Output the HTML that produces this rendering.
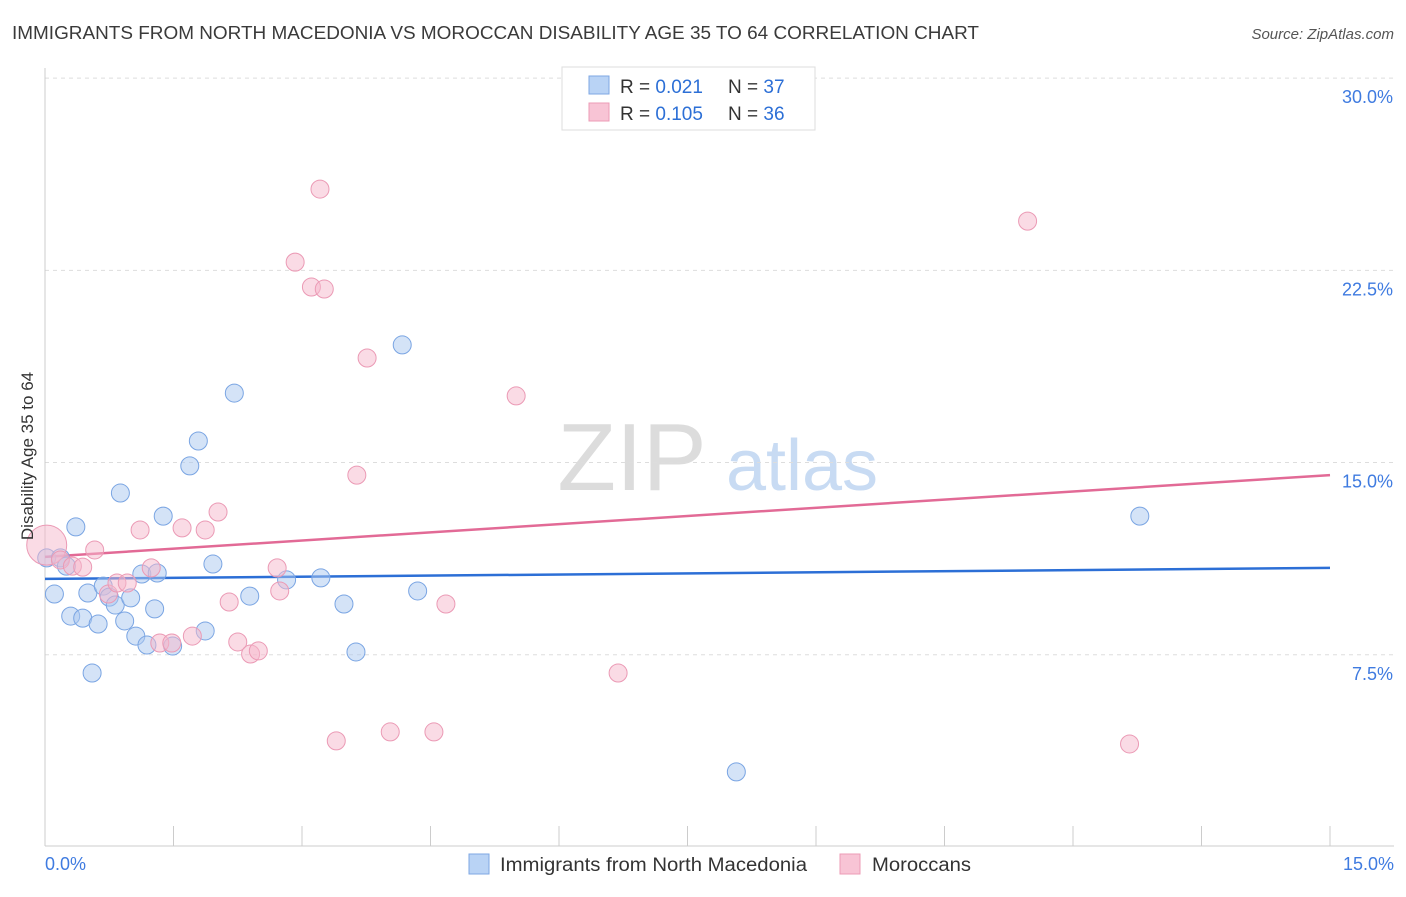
<!DOCTYPE html>
<html><head><meta charset="utf-8">
<style>
body{margin:0;background:#fff;font-family:"Liberation Sans",sans-serif;}
svg text{font-family:"Liberation Sans",sans-serif;}
</style></head>
<body>
<svg id="chart" width="1406" height="892" viewBox="0 0 1406 892" xmlns="http://www.w3.org/2000/svg">
<text x="12" y="39" font-size="18" fill="#3a3a3a" textLength="967" lengthAdjust="spacingAndGlyphs">IMMIGRANTS FROM NORTH MACEDONIA VS MOROCCAN DISABILITY AGE 35 TO 64 CORRELATION CHART</text>
<text x="1394" y="39" font-size="15" fill="#555" text-anchor="end" font-style="italic">Source: ZipAtlas.com</text>
<g>
<text x="632" y="490" font-size="96" fill="#dcdcdc" font-family="Liberation Serif,serif" text-anchor="middle">ZIP</text>
<text x="802" y="490" font-size="72" fill="#c8dbf3" text-anchor="middle">atlas</text>
</g>
<g id="grid"></g>
<g id="axes"></g>
<g id="trends"></g>
<g id="points"></g>
<text transform="translate(33,456) rotate(-90)" font-size="17" fill="#333" text-anchor="middle">Disability Age 35 to 64</text>
<g>
<rect x="562" y="67" width="253" height="63" fill="#fff" stroke="#ddd"/>
<rect x="589" y="76" width="20" height="18" fill="#b9d3f5" stroke="#7ea7e3"/>
<rect x="589" y="103" width="20" height="18" fill="#f8c4d5" stroke="#ec9bb6"/>
<text x="620" y="93" font-size="19" fill="#333">R = <tspan fill="#2c6fd6">0.021</tspan></text>
<text x="728" y="93" font-size="19" fill="#333">N = <tspan fill="#2c6fd6">37</tspan></text>
<text x="620" y="120" font-size="19" fill="#333">R = <tspan fill="#2c6fd6">0.105</tspan></text>
<text x="728" y="120" font-size="19" fill="#333">N = <tspan fill="#2c6fd6">36</tspan></text>
</g>
<g>
<rect x="469" y="854" width="20" height="20" fill="#b9d3f5" stroke="#7ea7e3"/>
<text x="500" y="871" font-size="19" fill="#333" textLength="307" lengthAdjust="spacingAndGlyphs">Immigrants from North Macedonia</text>
<rect x="840" y="854" width="20" height="20" fill="#f8c4d5" stroke="#ec9bb6"/>
<text x="872" y="871" font-size="19" fill="#333" textLength="99" lengthAdjust="spacingAndGlyphs">Moroccans</text>
</g>
</svg>
<script>
const blueX=[0.02,0.11,0.18,0.25,0.30,0.36,0.44,0.50,0.55,0.62,0.68,0.75,0.82,0.88,0.93,1.00,1.06,1.13,1.19,1.28,1.31,1.38,1.49,1.69,1.79,1.87,1.96,2.21,2.39,2.82,3.22,3.49,3.63,4.17,4.35,8.07,12.78];
const blueY=[11.28,9.87,11.28,10.96,9.01,12.49,8.93,9.91,6.79,8.70,10.18,9.75,9.44,13.81,8.82,9.72,8.23,10.65,7.88,9.29,10.69,12.91,7.84,14.87,15.84,8.43,11.04,17.71,9.79,10.42,10.50,9.48,7.61,19.59,9.99,2.93,12.91];
const pinkX=[0.02,0.18,0.32,0.44,0.58,0.74,0.84,0.96,1.11,1.24,1.34,1.48,1.60,1.72,1.87,2.02,2.15,2.25,2.40,2.49,2.71,2.74,2.92,3.11,3.21,3.26,3.40,3.64,3.76,4.03,4.54,4.68,5.50,6.69,11.47,12.66];
const pinkY=[11.78,11.20,10.96,10.92,11.59,9.87,10.30,10.30,12.37,10.89,7.96,7.96,12.45,8.23,12.37,13.07,9.56,8.00,7.53,7.65,10.89,9.99,22.82,21.85,25.67,21.77,4.14,14.51,19.08,4.49,4.49,9.48,17.60,6.79,24.42,4.02];
const blueTrend=[10.46,10.89];
const pinkTrend=[11.32,14.51];
const yTicks=[7.5,15,22.5,30];
const yTickLabels=["7.5%","15.0%","22.5%","30.0%"];
const xTicks=[0,1.5,3,4.5,6,7.5,9,10.5,12,13.5,15];

const NS="http://www.w3.org/2000/svg";
const sx=v=>45+v/15*1285;
const sy=v=>847-v*25.63;
function mk(tag,attrs,parent){const e=document.createElementNS(NS,tag);for(const k in attrs)e.setAttribute(k,attrs[k]);document.getElementById(parent).appendChild(e);return e;}
yTicks.forEach((t,i)=>{
 const g=mk('line',{x1:45,x2:1394,y1:sy(t),y2:sy(t),stroke:'#ddd','stroke-dasharray':'4,4'},'grid');
 
 
 const l=mk('text',{x:1393,y:sy(t)+25,'font-size':18,fill:'#3f7be0','text-anchor':'end'},'grid');
 l.textContent=yTickLabels[i];
 
 
});
const ax=mk('line',{x1:45,x2:45,y1:68,y2:846,stroke:'#ccc'},'axes');


const bx=mk('line',{x1:45,x2:1394,y1:846,y2:846,stroke:'#ccc'},'axes');


xTicks.forEach(t=>{
 const e=mk('line',{x1:sx(t),x2:sx(t),y1:826,y2:846,stroke:'#ccc'},'axes');
 
 
});
const x0=mk('text',{x:45,y:870,'font-size':18,fill:'#3f7be0'},'axes');x0.textContent='0.0%';


const x1=mk('text',{x:1394,y:870,'font-size':18,fill:'#3f7be0','text-anchor':'end'},'axes');x1.textContent='15.0%';


function pts(X,Y,fill,stroke,name){
 X.forEach((x,i)=>{
  const r=(name==='pink-point'&&i===0)?20:9;
  const c=mk('circle',{cx:sx(x),cy:sy(Y[i]),r:r,fill:fill,'fill-opacity':0.5,stroke:stroke,'stroke-width':1},'points');
  
  
 });
}
pts(blueX,blueY,'#a9c8f0','#7aa5e3','blue-point');
pts(pinkX,pinkY,'#f5b8cc','#eb9ab5','pink-point');
const bt=mk('line',{x1:sx(0),x2:sx(15),y1:sy(blueTrend[0]),y2:sy(blueTrend[1]),stroke:'#2c6fd6','stroke-width':2.5},'trends');


const pt=mk('line',{x1:sx(0),x2:sx(15),y1:sy(pinkTrend[0]),y2:sy(pinkTrend[1]),stroke:'#e26a96','stroke-width':2.5},'trends');


</script>
</body></html>
